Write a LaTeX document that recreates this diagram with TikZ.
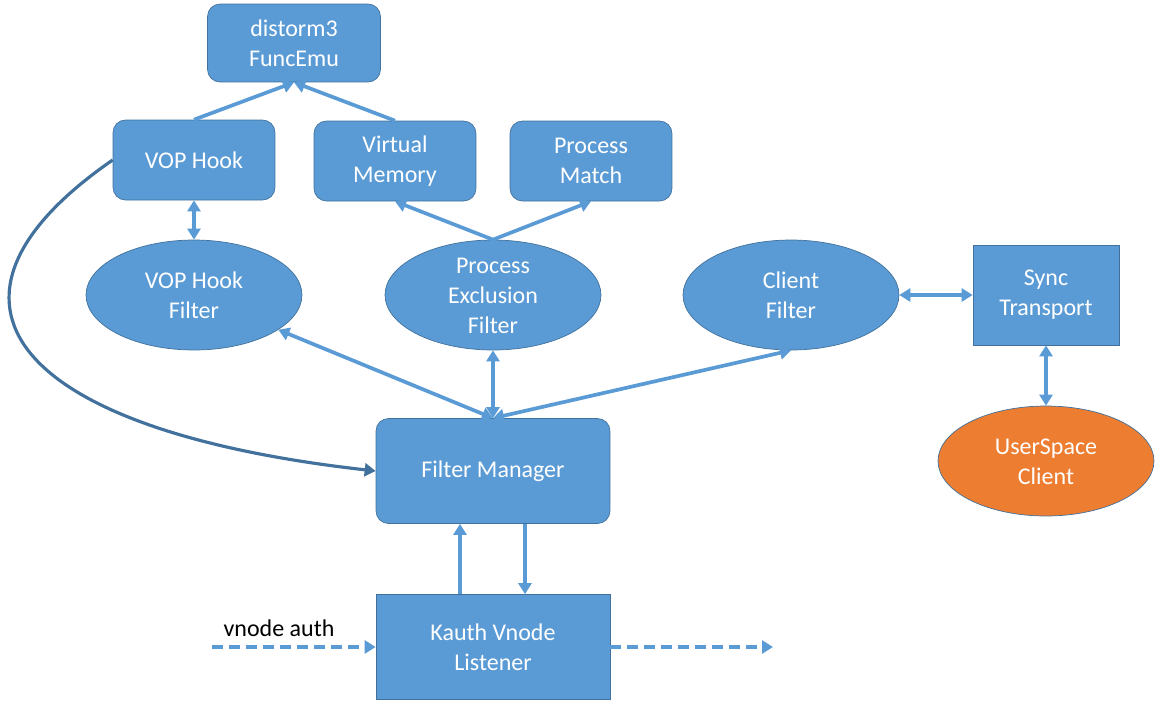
\documentclass[tikz,border=0pt]{standalone}
\usepackage{fontspec}
\setmainfont{Carlito}
\usetikzlibrary{shapes.geometric, arrows.meta}
\definecolor{boxblue}{RGB}{91,155,213}
\definecolor{boxline}{RGB}{65,113,156}
\definecolor{clientorange}{RGB}{237,125,49}
\newcommand{\diagfont}{\fontsize{13.66pt}{17.07pt}\selectfont}
\newcommand{\ovaltext}[1]{\smash{\raisebox{-0.37em}{\begin{tabular}{@{}c@{}}#1\end{tabular}}}}
\tikzstyle{roundbox} = [rectangle, rounded corners=0.25cm,
minimum width=3.24cm,
minimum height=1.6cm,
align=center,
draw=boxline, fill=boxblue,
text=white, font=\diagfont]
\tikzstyle{squarebox} = [rectangle,
minimum width=4.68cm,
minimum height=2.1cm,
align=center,
draw=boxline, fill=boxblue,
text=white, font=\diagfont]
\tikzstyle{oval} = [ellipse, inner sep=0pt,
minimum width=4.32cm,
minimum height=2.2cm,
draw=boxline, fill=boxblue,
text=white, font=\diagfont]
\tikzstyle{arrow} = [line width=2.1pt, draw=boxblue, ->, >={Triangle[width=0.26cm,length=0.22cm]}]
\tikzstyle{dblarrow} = [arrow, <->]
\tikzstyle{dasharrow} = [arrow, dash pattern=on 0.22cm off 0.12cm]
\tikzstyle{curvearrow} = [arrow, draw=boxline, line width=1.8pt]

\begin{document}
\begin{tikzpicture}[x=0.02cm, y=-0.02cm]
\useasboundingbox (0,0) rectangle (1171,718);

\node (funcemu) [roundbox, minimum width=3.46cm, minimum height=1.56cm] at (294,43) {distorm3\\FuncEmu};

\node (hook) [roundbox] at (194,160) {VOP Hook};

\node (vmem) [roundbox] at (395,161) {Virtual\\Memory};

\node (pmatch) [roundbox] at (591,161) {Process\\Match};

\node (hookf) [oval] at (194,295) {\ovaltext{VOP Hook\\Filter}};

\node (pexf) [oval] at (493,295) {\ovaltext{Process\\Exclusion\\Filter}};

\node (clientf) [oval] at (791,295) {\ovaltext{Client\\Filter}};

\node (sync) [squarebox, minimum width=2.92cm, minimum height=2cm] at (1046,295) {Sync\\Transport};

\node (usclient) [oval, fill=clientorange] at (1046,461) {\ovaltext{UserSpace\\Client}};

\node (fm) [roundbox, minimum width=4.68cm, minimum height=2.1cm] at (493,471) {Filter Manager};

\node (kauth) [squarebox] at (493,647) {Kauth Vnode\\Listener};

\node (authlabel) [font=\diagfont] at (279,628) {vnode auth};

\coordinate (authin) at (212,647);
\coordinate (authout) at (773,647);


\draw [arrow] (hook.north) -- (funcemu.south);

\draw [arrow] (vmem.north) -- (funcemu.south);

\draw [arrow] (pexf.north) -- (vmem.south);

\draw [arrow] (pexf.north) -- (pmatch.south);

\draw [dblarrow] (hook.south) -- (hookf.north);

\draw [dblarrow] (hookf) -- (fm.north);

\draw [dblarrow] (pexf.south) -- (fm.north);

\draw [dblarrow] (clientf.south) -- (fm.north);

\draw [dblarrow] (clientf.east) -- (sync.west);

\draw [dblarrow] (sync.south) -- (usclient.north);

\draw [arrow] ([xshift=0.64cm]fm.south) -- ([xshift=0.64cm]kauth.north);

\draw [arrow] ([xshift=-0.66cm]kauth.north) -- ([xshift=-0.66cm]fm.south);

\draw [curvearrow] (hook.west) .. controls (-90,300) and (10,430) .. (fm.west);

\draw [dasharrow] (authin) -- (kauth.west);

\draw [dasharrow] (kauth.east) -- (authout);

\end{tikzpicture}
\end{document}
